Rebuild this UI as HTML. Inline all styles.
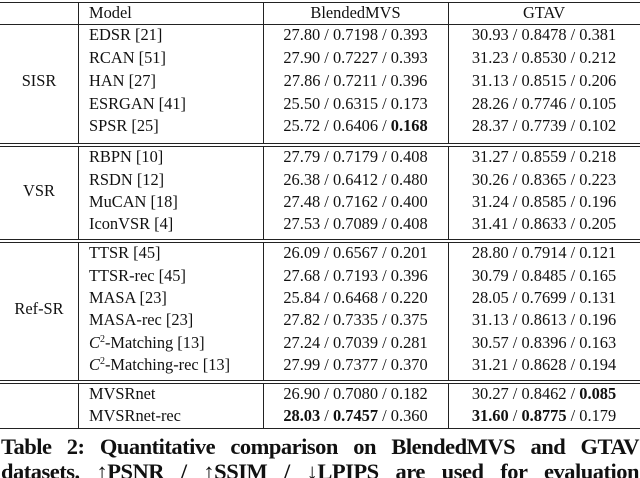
<!DOCTYPE html>
<html><head><meta charset="utf-8"><style>
body{margin:0;background:#fff;}
#t{position:relative;width:640px;height:478px;overflow:hidden;font-family:"Liberation Serif",serif;color:#111;font-size:16.4px;}
.c{position:absolute;white-space:nowrap;line-height:18px;}
.h{position:absolute;background:#222;height:1px;}
.v{position:absolute;background:#222;width:1px;}
sup{font-size:10px;vertical-align:0;position:relative;top:-6px;line-height:0;}
.cap{position:absolute;left:1px;width:638px;font-weight:bold;font-size:22.5px;letter-spacing:-0.5px;line-height:25px;text-align:justify;text-align-last:justify;white-space:nowrap;}
</style></head><body>
<div id="t"></div>
<script>
const rows=[
["EDSR [21]","27.80 / 0.7198 / 0.393","30.93 / 0.8478 / 0.381"],
["RCAN [51]","27.90 / 0.7227 / 0.393","31.23 / 0.8530 / 0.212"],
["HAN [27]","27.86 / 0.7211 / 0.396","31.13 / 0.8515 / 0.206"],
["ESRGAN [41]","25.50 / 0.6315 / 0.173","28.26 / 0.7746 / 0.105"],
["SPSR [25]","25.72 / 0.6406 / <b>0.168</b>","28.37 / 0.7739 / 0.102"],
["RBPN [10]","27.79 / 0.7179 / 0.408","31.27 / 0.8559 / 0.218"],
["RSDN [12]","26.38 / 0.6412 / 0.480","30.26 / 0.8365 / 0.223"],
["MuCAN [18]","27.48 / 0.7162 / 0.400","31.24 / 0.8585 / 0.196"],
["IconVSR [4]","27.53 / 0.7089 / 0.408","31.41 / 0.8633 / 0.205"],
["TTSR [45]","26.09 / 0.6567 / 0.201","28.80 / 0.7914 / 0.121"],
["TTSR-rec [45]","27.68 / 0.7193 / 0.396","30.79 / 0.8485 / 0.165"],
["MASA [23]","25.84 / 0.6468 / 0.220","28.05 / 0.7699 / 0.131"],
["MASA-rec [23]","27.82 / 0.7335 / 0.375","31.13 / 0.8613 / 0.196"],
["<i>C</i><sup>2</sup>-Matching [13]","27.24 / 0.7039 / 0.281","30.57 / 0.8396 / 0.163"],
["<i>C</i><sup>2</sup>-Matching-rec [13]","27.99 / 0.7377 / 0.370","31.21 / 0.8628 / 0.194"],
["MVSRnet","26.90 / 0.7080 / 0.182","30.27 / 0.8462 / <b>0.085</b>"],
["MVSRnet-rec","<b>28.03</b> / <b>0.7457</b> / 0.360","<b>31.60</b> / <b>0.8775</b> / 0.179"]
];
const ys=[35,58,81,104,126,157,180,202,224,253,276,298,320,343,365,394,416];
const T=document.getElementById('t');
function add(cls,st,html){const d=document.createElement('div');d.className=cls;d.style.cssText=st;if(html)d.innerHTML=html;T.appendChild(d);return d;}
let e;
e=add('c','left:89px;top:4px;','Model');


e=add('c','left:263px;width:185px;text-align:center;top:4px;','BlendedMVS');


e=add('c','left:448px;width:192px;text-align:center;top:4px;','GTAV');


rows.forEach((r,i)=>{const y=ys[i]-9;
e=add('c','left:89px;top:'+y+'px;',r[0]);


e=add('c','left:263px;width:185px;text-align:center;top:'+y+'px;',r[1]);


e=add('c','left:448px;width:192px;text-align:center;top:'+y+'px;',r[2]);


});
[["SISR",81],["VSR",191],["Ref-SR",309]].forEach(g=>{
e=add('c','left:0;width:78px;text-align:center;top:'+(g[1]-9)+'px;',g[0]);


});
[2,24,143,146,239,242,380,383,428].forEach(y=>add('h','left:0;width:640px;top:'+y+'px;'));
[[2,143],[146,239],[242,380],[383,428]].forEach(s=>[78,263,448].forEach(x=>add('v','left:'+x+'px;top:'+s[0]+'px;height:'+(s[1]-s[0])+'px;')));
e=add('cap','top:434px;','Table 2: Quantitative comparison on BlendedMVS and GTAV');


e=add('cap','top:459px;','datasets. ↑PSNR / ↑SSIM / ↓LPIPS are used for evaluation');


</script>
</body></html>
